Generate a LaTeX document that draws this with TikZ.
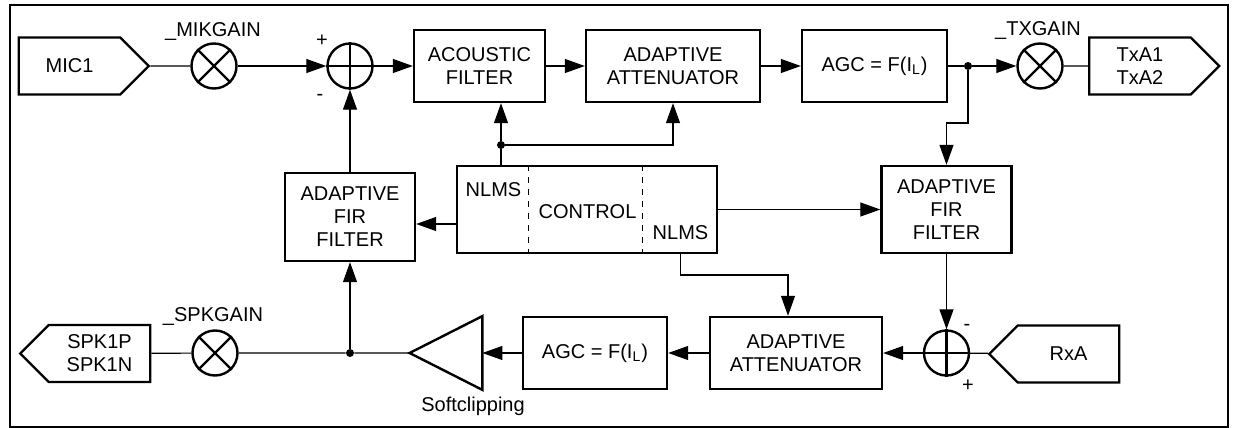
\documentclass[tikz,border=0pt]{standalone}
\usepackage{fontspec}
\setmainfont{Liberation Sans}
\usetikzlibrary{shapes.symbols,arrows.meta,positioning,calc}

\begin{document}
\begin{tikzpicture}[x=0.5pt, y=-0.5pt,
    font=\fontsize{10}{11.5}\selectfont,
    block/.style={rectangle, draw, line width=1.2pt, align=center, inner sep=0pt},
    port/.style={signal, draw, line width=1.2pt, signal pointer angle=90, minimum height=28.5pt, minimum width=65pt, align=center, inner sep=2pt},
    mult/.style={circle, draw, line width=1.2pt, minimum size=22.5pt, inner sep=0pt},
    dot/.style={circle, fill, inner sep=0pt, minimum size=4pt},
    wire/.style={line width=0.6pt},
    arrow/.style={wire, -{Triangle[length=10pt,width=7pt]}}]

    \useasboundingbox (0,0) rectangle (1233,428);
    \draw[line width=1.2pt] (10,5) rectangle (1228,427);

    % transmit path
    \node[port, signal to=east] (mic) at (69.5,66) {MIC1};
    \node[mult] (mikmul) at (214,66) {};
    \node (mikgain) at (213,32) {\_MIKGAIN};
    \node[mult] (sumtop) at (350,66) {};
    \node (plustop) at (322,41) {+};
    \node (minustop) at (320,97) {-};
    \node[block, minimum width=65.5pt, minimum height=36pt] (acoustic) at (479.5,66) {ACOUSTIC\\FILTER};
    \node[block, minimum width=87pt, minimum height=36pt] (atttop) at (673,66) {ADAPTIVE\\ATTENUATOR};
    \node[block, minimum width=72.5pt, minimum height=36pt] (agctop) at (874.5,66) {AGC = F(I\textsubscript{L})};
    \node[dot] (txdot) at (968,66) {};
    \node[mult] (txmul) at (1040,66) {};
    \node (txgain) at (1038,31) {\_TXGAIN};
    \node[port, signal to=east] (txa) at (1140,66) {TxA1\\TxA2};

    % control and echo filters
    \node[block, minimum width=65pt, minimum height=44pt] (firl) at (350,217) {ADAPTIVE\\FIR\\FILTER};
    \node[block, minimum width=130pt, minimum height=43.5pt] (ctl) at (587,209.5) {};
    \node (nlmsl) at (493.5,190) {NLMS};
    \node (ctltext) at (587.5,212) {CONTROL};
    \node (nlmsr) at (680.5,233) {NLMS};
    \draw[dashed, line width=0.5pt] ([xshift=36.5pt]ctl.north west) -- ([xshift=36.5pt]ctl.south west);
    \draw[dashed, line width=0.5pt] ([xshift=93.5pt]ctl.north west) -- ([xshift=93.5pt]ctl.south west);
    \node[block, minimum width=65pt, minimum height=43.5pt] (firr) at (946.5,209.5) {ADAPTIVE\\FIR\\FILTER};
    \node[dot] (nlmsdot) at (501,145) {};
    \coordinate (nlmsbend) at (788,275);
    \coordinate (txbend) at (946.5,123);

    % receive path
    \node[port, signal to=west] (spk) at (99.5,353.5) {SPK1P\\SPK1N};
    \node[mult] (spkmul) at (215,353) {};
    \node (spkgain) at (213,317) {\_SPKGAIN};
    \node[dot] (spkdot) at (350,353) {};
    \node[minimum width=36pt, minimum height=36.5pt, inner sep=0pt] (clip) at (446,353) {};
    \draw[line width=1.2pt] (clip.north east) -- (clip.west) -- (clip.south east) -- cycle;
    \node (softclip) at (473,406) {Softclipping};
    \node[block, minimum width=72pt, minimum height=36pt] (agcbot) at (595,353) {AGC = F(I\textsubscript{L})};
    \node[block, minimum width=86pt, minimum height=36pt] (attbot) at (796,353) {ADAPTIVE\\ATTENUATOR};
    \node[mult] (sumbot) at (946.5,353) {};
    \node (minusbot) at (967,327) {-};
    \node (plusbot) at (968,386) {+};
    \node[port, signal to=west] (rxa) at (1068.5,354) {RxA};

    % multiplier and adder symbols
    \foreach \m in {mikmul,txmul,spkmul}
        \draw[line width=1.2pt] (\m.north east) -- (\m.south west) (\m.north west) -- (\m.south east);
    \foreach \s in {sumtop,sumbot}
        \draw[line width=1.2pt] (\s.north) -- (\s.south) (\s.west) -- (\s.east);

    \draw[wire] (mic) -- (mikmul);
    \draw[arrow] (mikmul) -- (sumtop);
    \draw[arrow] (sumtop) -- (acoustic);
    \draw[arrow] (acoustic) -- (atttop);
    \draw[arrow] (atttop) -- (agctop);
    \draw[wire] (agctop) -- (txdot);
    \draw[arrow] (txdot) -- (txmul);
    \draw[wire] (txmul) -- (txa);
    \draw[arrow] (txdot) |- (txbend) -- (firr.north);

    \draw[wire] (ctl.north -| nlmsdot) -- (nlmsdot);
    \draw[arrow] (nlmsdot) -- (nlmsdot |- acoustic.south);
    \draw[arrow] (nlmsdot) -| (atttop.south);
    \draw[arrow] (ctl) -- (firr);
    \draw[arrow] ([yshift=-7.25pt]ctl.west) -- ([yshift=-3.5pt]firl.east);
    \draw[arrow] (firl) -- (sumtop);
    \draw[arrow] (nlmsr |- ctl.south) |- (nlmsbend) -- (nlmsbend |- attbot.north);

    \draw[wire] (rxa) -- (sumbot);
    \draw[arrow] (firr) -- (sumbot);
    \draw[arrow] (sumbot) -- (attbot);
    \draw[arrow] (attbot) -- (agcbot);
    \draw[arrow] (agcbot) -- (clip.east);
    \draw[wire] (clip.west) -- (spkdot) -- (spkmul) -- (spk);
    \draw[arrow] (spkdot) -- (firl);
\end{tikzpicture}
\end{document}
